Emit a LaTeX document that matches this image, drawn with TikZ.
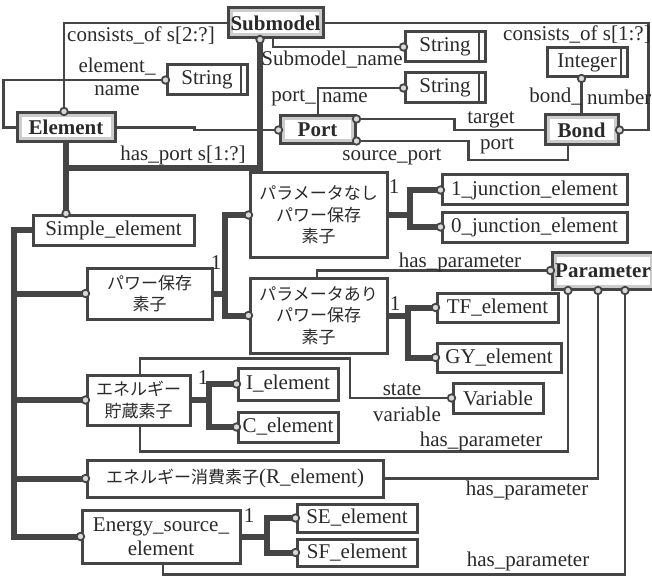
\documentclass[tikz,border=0pt]{standalone}
\usepackage{fontspec}
\setmainfont{Liberation Serif}
\newfontfamily\serfont{Liberation Serif}
\newfontfamily\jp{Noto Sans CJK JP}
\definecolor{lc}{HTML}{454545}
\definecolor{tc}{HTML}{2A2A2A}
\newcommand\lt{\serfont\fontsize{21}{24}\selectfont}
\newcommand\jt{\jp\fontsize{17}{21.5}\selectfont}
\begin{document}
\begin{tikzpicture}[x=1pt,y=-1pt,
 box/.style={draw=lc, line width=3pt, fill=white, inner sep=0pt, text=tc, font=\lt, align=center},
 ent/.style={box, font=\lt\bfseries, path picture={\draw[gray!40, line width=9pt] (path picture bounding box.south west) rectangle (path picture bounding box.north east);}},
 sbox/.style={box, path picture={\draw[lc, line width=2.6pt] ([xshift=-6pt]path picture bounding box.north east) -- ([xshift=-6pt]path picture bounding box.south east);}},
 ln/.style={draw=lc, line width=2.8pt},
 thk/.style={draw=lc, line width=6pt},
 oc/.style={circle, draw=lc, line width=1.8pt, fill=gray!30, inner sep=0pt, minimum size=7.5pt},
 lab/.style={inner sep=0pt, text=tc, font=\lt},
]
\useasboundingbox (0,0) rectangle (652,577);
\fill[white] (0,0) rectangle (652,577);
% boxes
\node[ent, minimum width=95pt, minimum height=30pt] (sub) at (275.5,23) {Submodel};
\node[sbox, minimum width=80pt, minimum height=30pt] (strA) at (445,47) {String};
\node[sbox, minimum width=80pt, minimum height=30pt] (strB) at (445,88) {String};
\node[sbox, minimum width=80pt, minimum height=29pt] (int) at (587,62.5) {Integer};
\node[ent, minimum width=98pt, minimum height=29pt] (el) at (66,127.5) {Element};
\node[sbox, minimum width=80pt, minimum height=30pt] (strC) at (207,80) {String};
\node[ent, minimum width=75pt, minimum height=28pt] (port) at (317.5,130) {Port};
\node[ent, minimum width=73pt, minimum height=30pt] (bond) at (581.5,130) {Bond};
\node[box, minimum width=161pt, minimum height=30pt] (simp) at (113.5,230) {Simple\_element};
\node[box, font=\jt, minimum width=125pt, minimum height=51pt] (pkeep) at (149.5,293.5) {パワー保存\\素子};
\node[box, font=\jt, minimum width=137pt, minimum height=84pt] (pnone) at (318.5,215) {パラメータなし\\パワー保存\\素子};
\node[box, font=\jt, minimum width=137pt, minimum height=75pt] (pwith) at (318.5,315.5) {パラメータあり\\パワー保存\\素子};
\node[box, minimum width=185pt, minimum height=30pt] (j1) at (534.5,190) {1\_junction\_element};
\node[box, minimum width=185pt, minimum height=30pt] (j0) at (534.5,227) {0\_junction\_element};
\node[ent, minimum width=102pt, minimum height=37pt] (param) at (603,270.5) {Parameter};
\node[box, minimum width=121pt, minimum height=29pt] (tf) at (497.5,307.5) {TF\_element};
\node[box, minimum width=124pt, minimum height=29pt] (gy) at (499,357.5) {GY\_element};
\node[box, font=\jt, minimum width=103pt, minimum height=50pt] (stor) at (138.5,400) {エネルギー\\貯蔵素子};
\node[box, minimum width=100pt, minimum height=32pt] (iel) at (288,384) {I\_element};
\node[box, minimum width=100pt, minimum height=30pt] (cel) at (288,427) {C\_element};
\node[box, minimum width=90pt, minimum height=30pt] (var) at (498,398) {Variable};
\node[box, minimum width=296pt, minimum height=37pt] (diss) at (235,478.5) {{\jt エネルギー消費素子}(R\_element)};
\node[box, minimum width=158pt, minimum height=53pt] (esrc) at (161,536.5) {Energy\_source\_\\element};
\node[box, minimum width=120pt, minimum height=28pt] (se) at (357,518) {SE\_element};
\node[box, minimum width=120pt, minimum height=27pt] (sf) at (357,552.5) {SF\_element};
% spines
\coordinate (sp) at (15,0);
\coordinate (s1) at (225,0);
\coordinate (s2) at (410,0);
\coordinate (s3) at (408,0);
\coordinate (s4) at (209,0);
\coordinate (s5) at (267,0);
% attribute lines
\draw[ln] (sub.west) -| ([xshift=-2pt]el.north) node[oc]{};
\draw[ln] (el.west) -- ++(-12,0) |- (strC.west) node[oc]{};
\draw[ln] (el.east) -- ++(78,0) -- ++(0,2.5) -- (port.west) node[oc]{};
\draw[ln] ([xshift=-2.5pt]sub.south) |- (strA.west) node[oc]{};
\draw[ln] ([xshift=0.5pt]port.north) |- (strB.west) node[oc]{};
\draw[ln] (sub.east) -- ++(324,0) |- (bond.east) node[oc]{};
\draw[ln] (bond.north) -- (bond.north |- int.south) node[oc]{};
\draw[ln] ([yshift=11pt]port.east) node[oc]{} -- ++(98,0) |- (bond.west);
\draw[ln] ([yshift=-11pt]port.east) node[oc]{} -- ++(112,0) -- ++(0,19) -| ([xshift=-13.5pt]bond.south);
\draw[ln] ([xshift=-1.5pt]pwith.north) |- (param.west) node[oc]{};
\draw[ln] ([xshift=1.5pt]stor.north) -- ++(0,-15) -- ++(210,0) |- (var.west) node[oc]{};
\draw[ln] ([xshift=1.5pt]stor.south) -- ++(0,25) -| ([xshift=-35pt]param.south) node[oc]{};
\draw[ln] (diss.east) -| ([xshift=-5pt]param.south) node[oc]{};
\draw[ln] ([xshift=2pt]esrc.south) -- ++(0,10) -| ([xshift=22pt]param.south) node[oc]{};
% subtype lines
\draw[thk] (el.south) -- (el.south |- simp.north) node[oc]{};
\draw[thk] ([xshift=-15.5pt]sub.south) node[oc]{} |- (el.south |- 0,168);
\draw[thk] (simp.west) -- ++(-18,0) |- (esrc.west) node[oc]{};
\draw[thk] (pkeep.west) node[oc]{} -- (pkeep.west -| sp);
\draw[thk] (stor.west) node[oc]{} -- (stor.west -| sp);
\draw[thk] (diss.west) node[oc]{} -- (diss.west -| sp);
\draw[thk] (pkeep.east) -- (pkeep.east -| s1);
\draw[thk] (pnone.west) node[oc]{} -| (s1 |- pwith.west) -- (pwith.west) node[oc]{};
\draw[thk] (pnone.east) -- (pnone.east -| s2);
\draw[thk] (j1.west) node[oc]{} -| (s2 |- j0.west) -- (j0.west) node[oc]{};
\draw[thk] (pwith.east) -- (pwith.east -| s3);
\draw[thk] (tf.west) node[oc]{} -| (s3 |- gy.west) -- (gy.west) node[oc]{};
\draw[thk] (stor.east) -- (stor.east -| s4);
\draw[thk] (iel.west) node[oc]{} -| (s4 |- cel.west) -- (cel.west) node[oc]{};
\draw[thk] (esrc.east) -- (esrc.east -| s5);
\draw[thk] (se.west) node[oc]{} -| (s5 |- sf.west) -- (sf.west) node[oc]{};
% labels
\node[lab] (l1) at (141,36) {consists\_of s[2:?]};
\node[lab] (l2) at (117,67) {element\_};
\node[lab] (l3) at (117,91) {name};
\node[lab] (l4) at (183,155) {has\_port s[1:?]};
\node[lab] (l5) at (332,60) {Submodel\_name};
\node[lab, anchor=east] (l6) at (316,98) {port\_};
\node[lab, anchor=west] (l7) at (322,98) {name};
\node[lab] (l8) at (577,35) {consists\_of s[1:?]};
\node[lab, anchor=east] (l9) at (582,97) {bond\_};
\node[lab, anchor=west] (l10) at (587,97) {number};
\node[lab] (l11) at (491,120) {target};
\node[lab] (l12) at (497,146) {port};
\node[lab] (l13) at (392,157) {source\_port};
\node[lab] (o1) at (216,263) {1};
\node[lab] (o2) at (394,187) {1};
\node[lab] (o3) at (395,304) {1};
\node[lab] (o4) at (203,378) {1};
\node[lab] (o5) at (249,516) {1};
\node[lab] (h1) at (460,262) {has\_parameter};
\node[lab] (h2) at (481,441) {has\_parameter};
\node[lab] (h3) at (527,490) {has\_parameter};
\node[lab] (h4) at (528,561) {has\_parameter};
\node[lab] (st1) at (402,390) {state};
\node[lab] (st2) at (407,414) {variable};
\end{tikzpicture}
\end{document}
